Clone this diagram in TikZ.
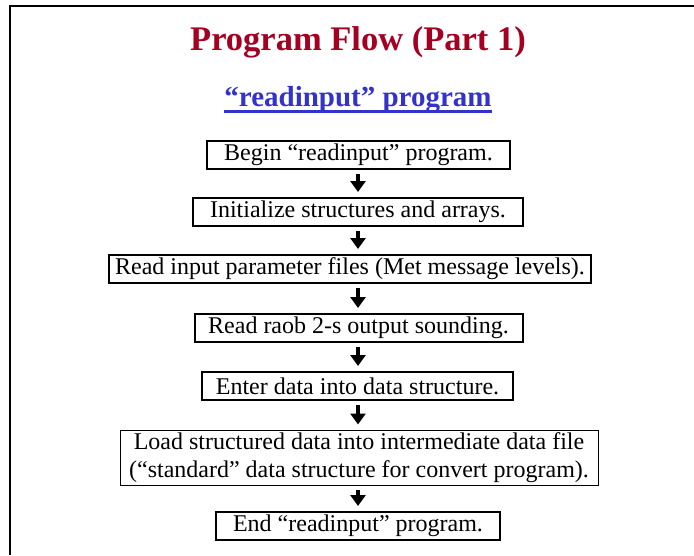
\documentclass[tikz,border=0pt]{standalone}
\usepackage{fontspec}
\setmainfont{Liberation Serif}
\usetikzlibrary{arrows.meta}
\definecolor{titlered}{HTML}{A50021}
\definecolor{subblue}{HTML}{3333CC}
\newcommand{\thickul}[1]{{\setbox0\hbox{#1}\rlap{\raisebox{-7pt}{\rule{\wd0}{3pt}}}\box0}}
\begin{document}
\begin{tikzpicture}[x=1pt,y=-1pt,
  stepbox/.style={draw=black, line width=2pt, inner sep=0pt, minimum height=28pt,
    font=\fontsize{24}{27.6}\selectfont, align=center},
  flowarrow/.style={line width=4.5pt, -{Triangle[length=11pt,width=15pt]},
    shorten <=4pt, shorten >=5pt}]
\useasboundingbox (0,0) rectangle (694,555);
\fill[white] (0,0) rectangle (694,555);
% frame
\draw[line width=2pt] (10,555) -- (10,6) -- (694,6);
% titles
\node[anchor=base, text=titlered, font=\fontsize{34.5}{40}\selectfont\bfseries] (title) at (358,50) {Program Flow (Part 1)};
\node[anchor=base, text=subblue, font=\fontsize{29}{34}\selectfont\bfseries] (sub) at (358,106) {\thickul{“readinput” program}};
% boxes
\node[stepbox, minimum width=303pt] (b1) at (358.5,154.5) {Begin “readinput” program.};
\node[stepbox, minimum width=330pt] (b2) at (358,212) {Initialize structures and arrays.};
\node[stepbox, minimum width=482pt] (b3) at (350,269) {Read input parameter files (Met message levels).};
\node[stepbox, minimum width=328pt] (b4) at (358.5,328) {Read raob 2-s output sounding.};
\node[stepbox, minimum width=311pt] (b5) at (357.5,386) {Enter data into data structure.};
\node[stepbox, line width=1pt, minimum width=478pt, minimum height=55pt] (b6) at (359,457.5) {Load structured data into intermediate data file\\(“standard” data structure for convert program).};
\node[stepbox, minimum width=284pt] (b7) at (358,526) {End “readinput” program.};
% arrows
\coordinate (ax) at (358,0);
\draw[flowarrow] (b1.south -| ax) -- (b2.north -| ax);
\draw[flowarrow] (b2.south -| ax) -- (b3.north -| ax);
\draw[flowarrow] (b3.south -| ax) -- (b4.north -| ax);
\draw[flowarrow] (b4.south -| ax) -- (b5.north -| ax);
\draw[flowarrow] (b5.south -| ax) -- (b6.north -| ax);
\draw[flowarrow] (b6.south -| ax) -- (b7.north -| ax);
\end{tikzpicture}
\end{document}
